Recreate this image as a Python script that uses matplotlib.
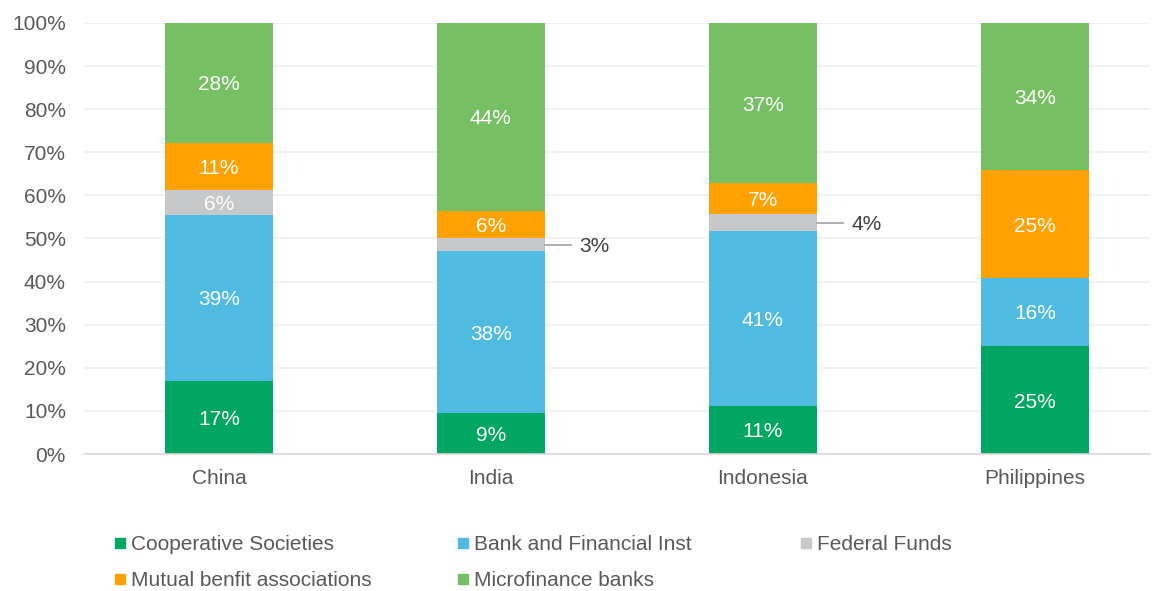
import matplotlib.pyplot as plt
from matplotlib.patches import Rectangle

plt.rcParams['font.family'] = ['Liberation Sans', 'DejaVu Sans']

countries = ["China", "India", "Indonesia", "Philippines"]
series = ["Cooperative Societies", "Bank and Financial Inst", "Federal Funds",
          "Mutual benfit associations", "Microfinance banks"]
cooperative = [16.9, 9.4, 11.2, 25.0]
bank = [38.6, 37.6, 40.6, 15.9]
federal = [5.7, 3.2, 3.8, 0.0]
mutual = [11.0, 6.2, 7.2, 24.9]
microfinance = [27.8, 43.6, 37.2, 34.2]
colors = ["#00A661", "#4FBBE0", "#C6C8C9", "#FFA100", "#77BF63"]

values = [cooperative, bank, federal, mutual, microfinance]
FS = 15

fig = plt.figure(figsize=(11.58, 5.91), dpi=100)
ax = fig.add_axes([84 / 1158, 137 / 591, 1066 / 1158, 431 / 591])

x = list(range(len(countries)))
width = 0.4
bottoms = [0.0] * len(countries)
for name, vals, col in zip(series, values, colors):
    ax.bar(x, vals, width, bottom=bottoms, color=col, label=name, zorder=2)
    for i, v in enumerate(vals):
        mid = bottoms[i] + v / 2
        if v >= 5:
            ax.text(i, mid, f"{v:.0f}%", ha='center', va='center_baseline',
                    color='white', fontsize=FS, zorder=3)
        elif v > 0:
            # small slices get a leader line and an outside label
            x0 = i + width / 2
            ax.plot([x0, x0 + 0.095], [mid, mid], color='#A6A6A6', lw=1.3,
                    zorder=3, clip_on=False)
            ax.text(x0 + 0.125, mid, f"{v:.0f}%", ha='left', va='center_baseline',
                    color='#404040', fontsize=FS)
    bottoms = [b + v for b, v in zip(bottoms, vals)]

ax.set_xlim(-0.496, 3.423)
ax.set_ylim(0, 100)
ax.set_yticks(range(0, 101, 10))
ax.set_yticklabels([f"{t}%" for t in range(0, 101, 10)])
ax.set_xticks(x)
ax.set_xticklabels(countries)
ax.tick_params(axis='both', length=0, labelsize=FS, labelcolor='#595959')
ax.tick_params(axis='y', pad=13)
ax.tick_params(axis='x', pad=11)
ax.grid(axis='y', color='#EFEFEF', lw=1.2, zorder=0)
for s in ['top', 'right', 'left']:
    ax.spines[s].set_visible(False)
ax.spines['bottom'].set_color('#D9D9D9')
ax.spines['bottom'].set_linewidth(1.2)

# legend laid out in rows of three
W, H = 1158, 591
col_x = [115, 458, 801]
row_y = [543, 579]
for k, (name, col) in enumerate(zip(series, colors)):
    px = col_x[k % 3]
    py = row_y[k // 3]
    fig.add_artist(Rectangle((px / W, (H - py - 5) / H), 10 / W, 10 / H,
                             color=col, transform=fig.transFigure))
    fig.text((px + 16) / W, (H - py) / H, name, ha='left', va='center_baseline',
             fontsize=FS, color='#595959')

fig.savefig("out.png", dpi=100)
